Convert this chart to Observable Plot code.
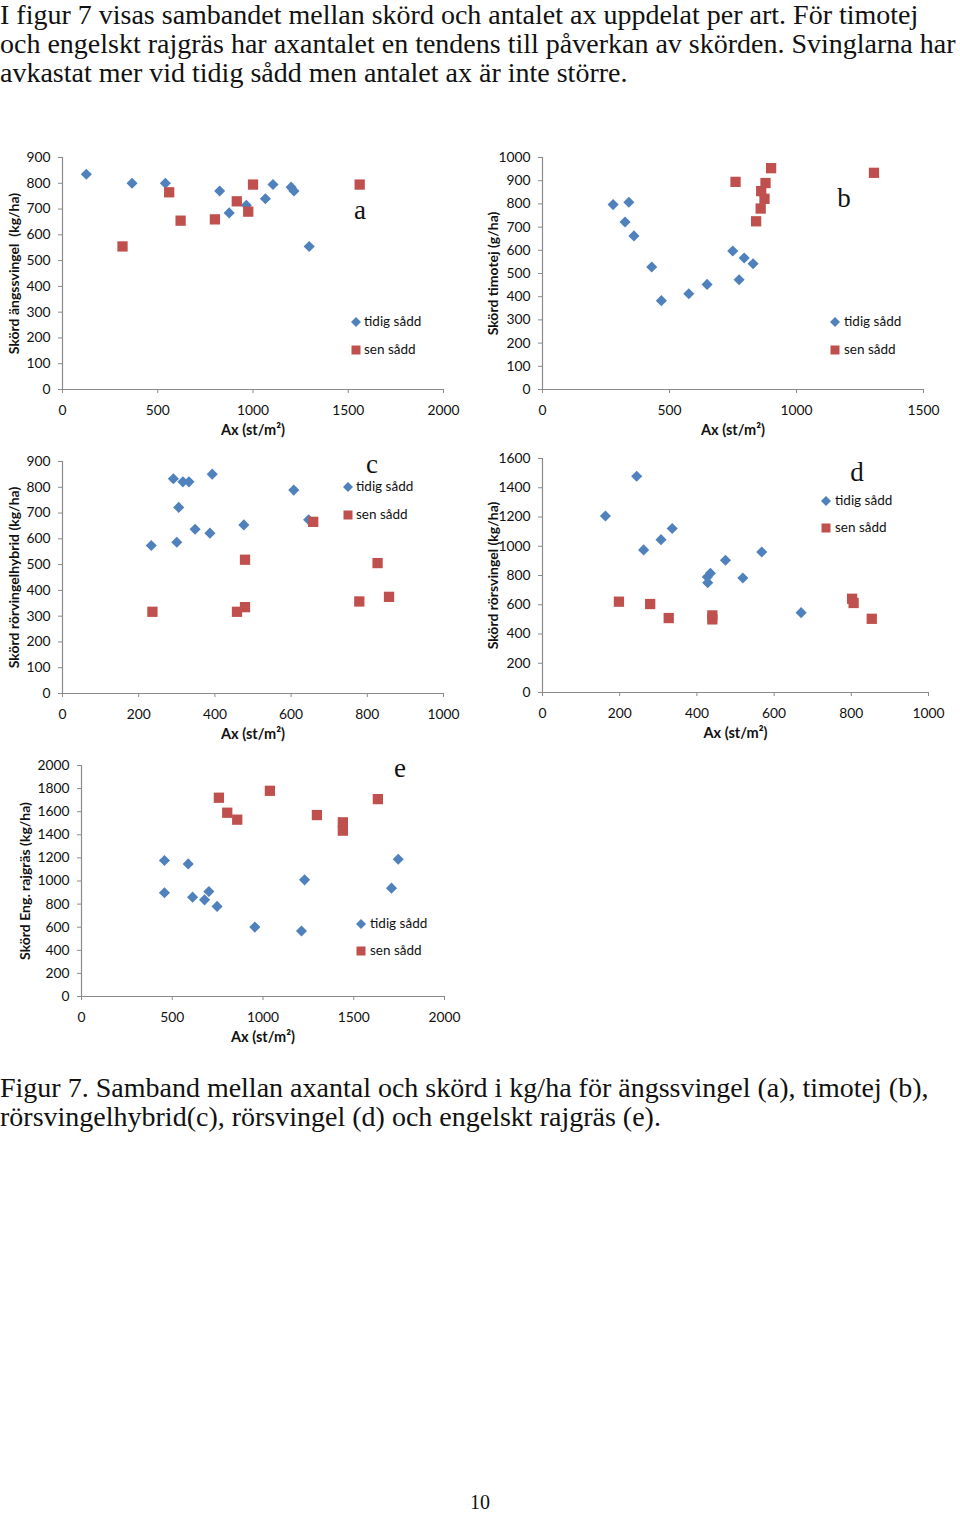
<!DOCTYPE html>
<html>
<head>
<meta charset="utf-8">
<script src="https://cdn.jsdelivr.net/npm/d3@7"></script>
<script src="https://cdn.jsdelivr.net/npm/@observablehq/plot@0.6"></script>
<style>
  html, body { margin: 0; padding: 0; background: #fff; }
  #page { position: relative; width: 960px; height: 1513px; overflow: hidden; }
  .serif { font-family: "Liberation Serif", "DejaVu Serif", serif; color: #111; position: absolute; left: 0; white-space: nowrap; }
  .panel { position: absolute; }
  .lbl { position: absolute; font-family: "Liberation Serif", serif; font-size: 27px; color: #111; transform: translate(-50%, -50%); line-height: 1; }
  .leg { position: absolute; font-family: Lato, sans-serif; font-size: 13.5px; color: #111; transform: translateY(-50%); line-height: 1; white-space: nowrap; }
  .sym { position: absolute; }
</style>
</head>
<body>
<div id="page">
  <div class="serif" id="intro" style="top:0; font-size:28px; line-height:29px;">I figur 7 visas sambandet mellan skörd och antalet ax uppdelat per art. För timotej<br>och engelskt rajgräs har axantalet en tendens till påverkan av skörden. Svinglarna har<br>avkastat mer vid tidig sådd men antalet ax är inte större.</div>
  <div class="serif" id="caption" style="top:1073px; font-size:28px; line-height:29px;">Figur 7. Samband mellan axantal och skörd i kg/ha för ängssvingel (a), timotej (b),<br>rörsvingelhybrid(c), rörsvingel (d) och engelskt rajgräs (e).</div>
  <div class="serif" id="pagenum" style="top:1493px; left:0; width:960px; text-align:center; font-size:20px; line-height:18px;">10</div>
</div>
<script>
// ---------- data ----------
const seriesNames = ["tidig sådd", "sen sådd"];
const xTitle = "Ax (st/m²)";

// (a) ängssvingel
const aEarlyAx    = [125, 365, 540, 825, 875, 965, 1065, 1105, 1200, 1215, 1295];
const aEarlySkord = [835, 800, 800, 770, 685, 715, 740, 795, 785, 770, 555];
const aLateAx     = [315, 560, 620, 800, 915, 975, 1000, 1560];
const aLateSkord  = [555, 765, 655, 660, 730, 690, 795, 795];
const aXTicks = [0, 500, 1000, 1500, 2000];
const aYTicks = [0, 100, 200, 300, 400, 500, 600, 700, 800, 900];
const aYTitle = "Skörd ängssvingel  (kg/ha)";

// (b) timotej
const bEarlyAx    = [278, 340, 325, 360, 430, 468, 576, 648, 749, 794, 774, 829];
const bEarlySkord = [797, 807, 722, 662, 528, 383, 413, 453, 597, 567, 473, 542];
const bLateAx     = [760, 900, 878, 861, 874, 859, 841, 1305];
const bLateSkord  = [895, 954, 890, 855, 822, 780, 725, 934];
const bXTicks = [0, 500, 1000, 1500];
const bYTicks = [0, 100, 200, 300, 400, 500, 600, 700, 800, 900, 1000];
const bYTitle = "Skörd timotej (g/ha)";

// (c) rörsvingelhybrid
const cEarlyAx    = [233, 291, 316, 332, 393, 305, 300, 348, 387, 476, 607, 646];
const cEarlySkord = [574, 833, 821, 821, 851, 722, 587, 637, 622, 654, 789, 674];
const cLateAx     = [236, 458, 479, 479, 658, 779, 827, 857];
const cLateSkord  = [317, 317, 335, 519, 666, 357, 506, 375];
const cXTicks = [0, 200, 400, 600, 800, 1000];
const cYTicks = [0, 100, 200, 300, 400, 500, 600, 700, 800, 900];
const cYTitle = "Skörd rörvingelhybrid (kg/ha)";

// (d) rörsvingel
const dEarlyAx    = [163, 244, 262, 307, 336, 435, 427, 428, 474, 519, 568, 670];
const dEarlySkord = [1207, 1479, 975, 1045, 1121, 815, 790, 750, 904, 783, 961, 546];
const dLateAx     = [198, 279, 327, 440, 440, 802, 806, 853];
const dLateSkord  = [621, 605, 509, 527, 500, 641, 612, 504];
const dXTicks = [0, 200, 400, 600, 800, 1000];
const dYTicks = [0, 200, 400, 600, 800, 1000, 1200, 1400, 1600];
const dYTitle = "Skörd rörsvingel (kg/ha)";

// (e) engelskt rajgräs
const eEarlyAx    = [457, 457, 588, 612, 678, 702, 747, 955, 1212, 1229, 1708, 1745];
const eEarlySkord = [1177, 898, 1148, 860, 837, 909, 780, 601, 567, 1010, 938, 1188];
const eLateAx     = [757, 803, 858, 1038, 1297, 1440, 1440, 1633];
const eLateSkord  = [1721, 1591, 1531, 1781, 1571, 1508, 1436, 1709];
const eXTicks = [0, 500, 1000, 1500, 2000];
const eYTicks = [0, 200, 400, 600, 800, 1000, 1200, 1400, 1600, 1800, 2000];
const eYTitle = "Skörd Eng. rajgräs (kg/ha)";

// ---------- styles ----------
const BLUE = "#4F81BD";
const RED = "#C0504D";
const AXIS = "#8a8a8a";

const zip = (xs, ys) => xs.map((x, i) => ({ax: x, skord: ys[i]}));

function panel(cfg) {
  const early = zip(cfg.earlyAx, cfg.earlySkord);
  const late = zip(cfg.lateAx, cfg.lateSkord);
  const xDom = [cfg.xTicks[0], cfg.xTicks[cfg.xTicks.length - 1]];
  const yDom = [cfg.yTicks[0], cfg.yTicks[cfg.yTicks.length - 1]];
  return Plot.plot({
    width: 480,
    height: 300,
    marginLeft: cfg.mL, marginRight: cfg.mR, marginTop: cfg.mT, marginBottom: cfg.mB,
    x: {domain: xDom},
    y: {domain: yDom},
    style: {fontFamily: "Lato, sans-serif", fontSize: "13.8px", color: "#111", background: "transparent", overflow: "visible"},
    marks: [
      Plot.axisX(cfg.xTicks, {tickSize: 4, tickPadding: 12, stroke: AXIS, fill: "#111", label: null, tickFormat: d => String(d)}),
      Plot.axisY(cfg.yTicks, {tickSize: 4, tickPadding: 8, stroke: AXIS, fill: "#111", label: null, tickFormat: d => String(d)}),
      Plot.ruleY([yDom[0]], {stroke: AXIS, strokeWidth: 1.2}),
      Plot.ruleX([xDom[0]], {stroke: AXIS, strokeWidth: 1.2}),
      Plot.dot(early, {x: "ax", y: "skord", symbol: "diamond2", r: 5, fill: BLUE, stroke: "none"}),
      Plot.dot(late, {x: "ax", y: "skord", symbol: "square", r: 5.8, fill: RED, stroke: "none"}),
      Plot.text([xTitle], {text: d => d, frameAnchor: "bottom", dy: 45, textAnchor: "middle", fontWeight: "bold", fontSize: 14.5, fill: "#111"}),
      Plot.text([cfg.yTitle], {text: d => d, frameAnchor: "left", dx: cfg.yDx, textAnchor: "middle", rotate: -90, fontWeight: "bold", fontSize: 14, fill: "#111"})
    ]
  });
}

const page = document.getElementById("page");

function place(el, left, top) {
  const wrap = document.createElement("div");
  wrap.className = "panel";
  wrap.style.left = left + "px";
  wrap.style.top = top + "px";
  wrap.appendChild(el);
  page.appendChild(wrap);
}

function label(letter, x, y) {
  const d = document.createElement("div");
  d.className = "lbl";
  d.style.left = x + "px";
  d.style.top = y + "px";
  d.textContent = letter;
  page.appendChild(d);
}

function legend(symX, textX, y1, y2) {
  const ns = "http://www.w3.org/2000/svg";
  const mk = (kind, y) => {
    const s = document.createElementNS(ns, "svg");
    s.setAttribute("width", 12); s.setAttribute("height", 12);
    s.setAttribute("class", "sym");
    s.style.left = (symX - 6) + "px"; s.style.top = (y - 6) + "px";
    const p = document.createElementNS(ns, kind === 0 ? "polygon" : "rect");
    if (kind === 0) { p.setAttribute("points", "6,1 11,6 6,11 1,6"); p.setAttribute("fill", BLUE); }
    else { p.setAttribute("x", 1.5); p.setAttribute("y", 1.5); p.setAttribute("width", 9); p.setAttribute("height", 9); p.setAttribute("fill", RED); }
    s.appendChild(p);
    page.appendChild(s);
    const t = document.createElement("div");
    t.className = "leg";
    t.style.left = textX + "px"; t.style.top = y + "px";
    t.textContent = seriesNames[kind];
    page.appendChild(t);
  };
  mk(0, y1); mk(1, y2);
}

place(panel({earlyAx: aEarlyAx, earlySkord: aEarlySkord, lateAx: aLateAx, lateSkord: aLateSkord,
  xTicks: aXTicks, yTicks: aYTicks, yTitle: aYTitle, mL: 62, mR: 37, mT: 17, mB: 51, yDx: -48}), 0, 140);
place(panel({earlyAx: bEarlyAx, earlySkord: bEarlySkord, lateAx: bLateAx, lateSkord: bLateSkord,
  xTicks: bXTicks, yTicks: bYTicks, yTitle: bYTitle, mL: 62, mR: 37, mT: 17, mB: 51, yDx: -49}), 480, 140);
place(panel({earlyAx: cEarlyAx, earlySkord: cEarlySkord, lateAx: cLateAx, lateSkord: cLateSkord,
  xTicks: cXTicks, yTicks: cYTicks, yTitle: cYTitle, mL: 62, mR: 37, mT: 16, mB: 52, yDx: -48}), 0, 445);
place(panel({earlyAx: dEarlyAx, earlySkord: dEarlySkord, lateAx: dLateAx, lateSkord: dLateSkord,
  xTicks: dXTicks, yTicks: dYTicks, yTitle: dYTitle, mL: 62, mR: 32, mT: 13, mB: 53, yDx: -49}), 480, 445);
place(panel({earlyAx: eEarlyAx, earlySkord: eEarlySkord, lateAx: eLateAx, lateSkord: eLateSkord,
  xTicks: eXTicks, yTicks: eYTicks, yTitle: eYTitle, mL: 81, mR: 36, mT: 15, mB: 54, yDx: -56}), 0, 750);

label("a", 360, 210);
label("b", 844, 198);
label("c", 372, 464);
label("d", 857, 472);
label("e", 400, 768);

legend(356, 364, 322, 350);
legend(835, 844, 322, 350);
legend(348, 356, 487, 515);
legend(826, 835, 501, 528);
legend(361, 370, 924, 951);
</script>
</body>
</html>
